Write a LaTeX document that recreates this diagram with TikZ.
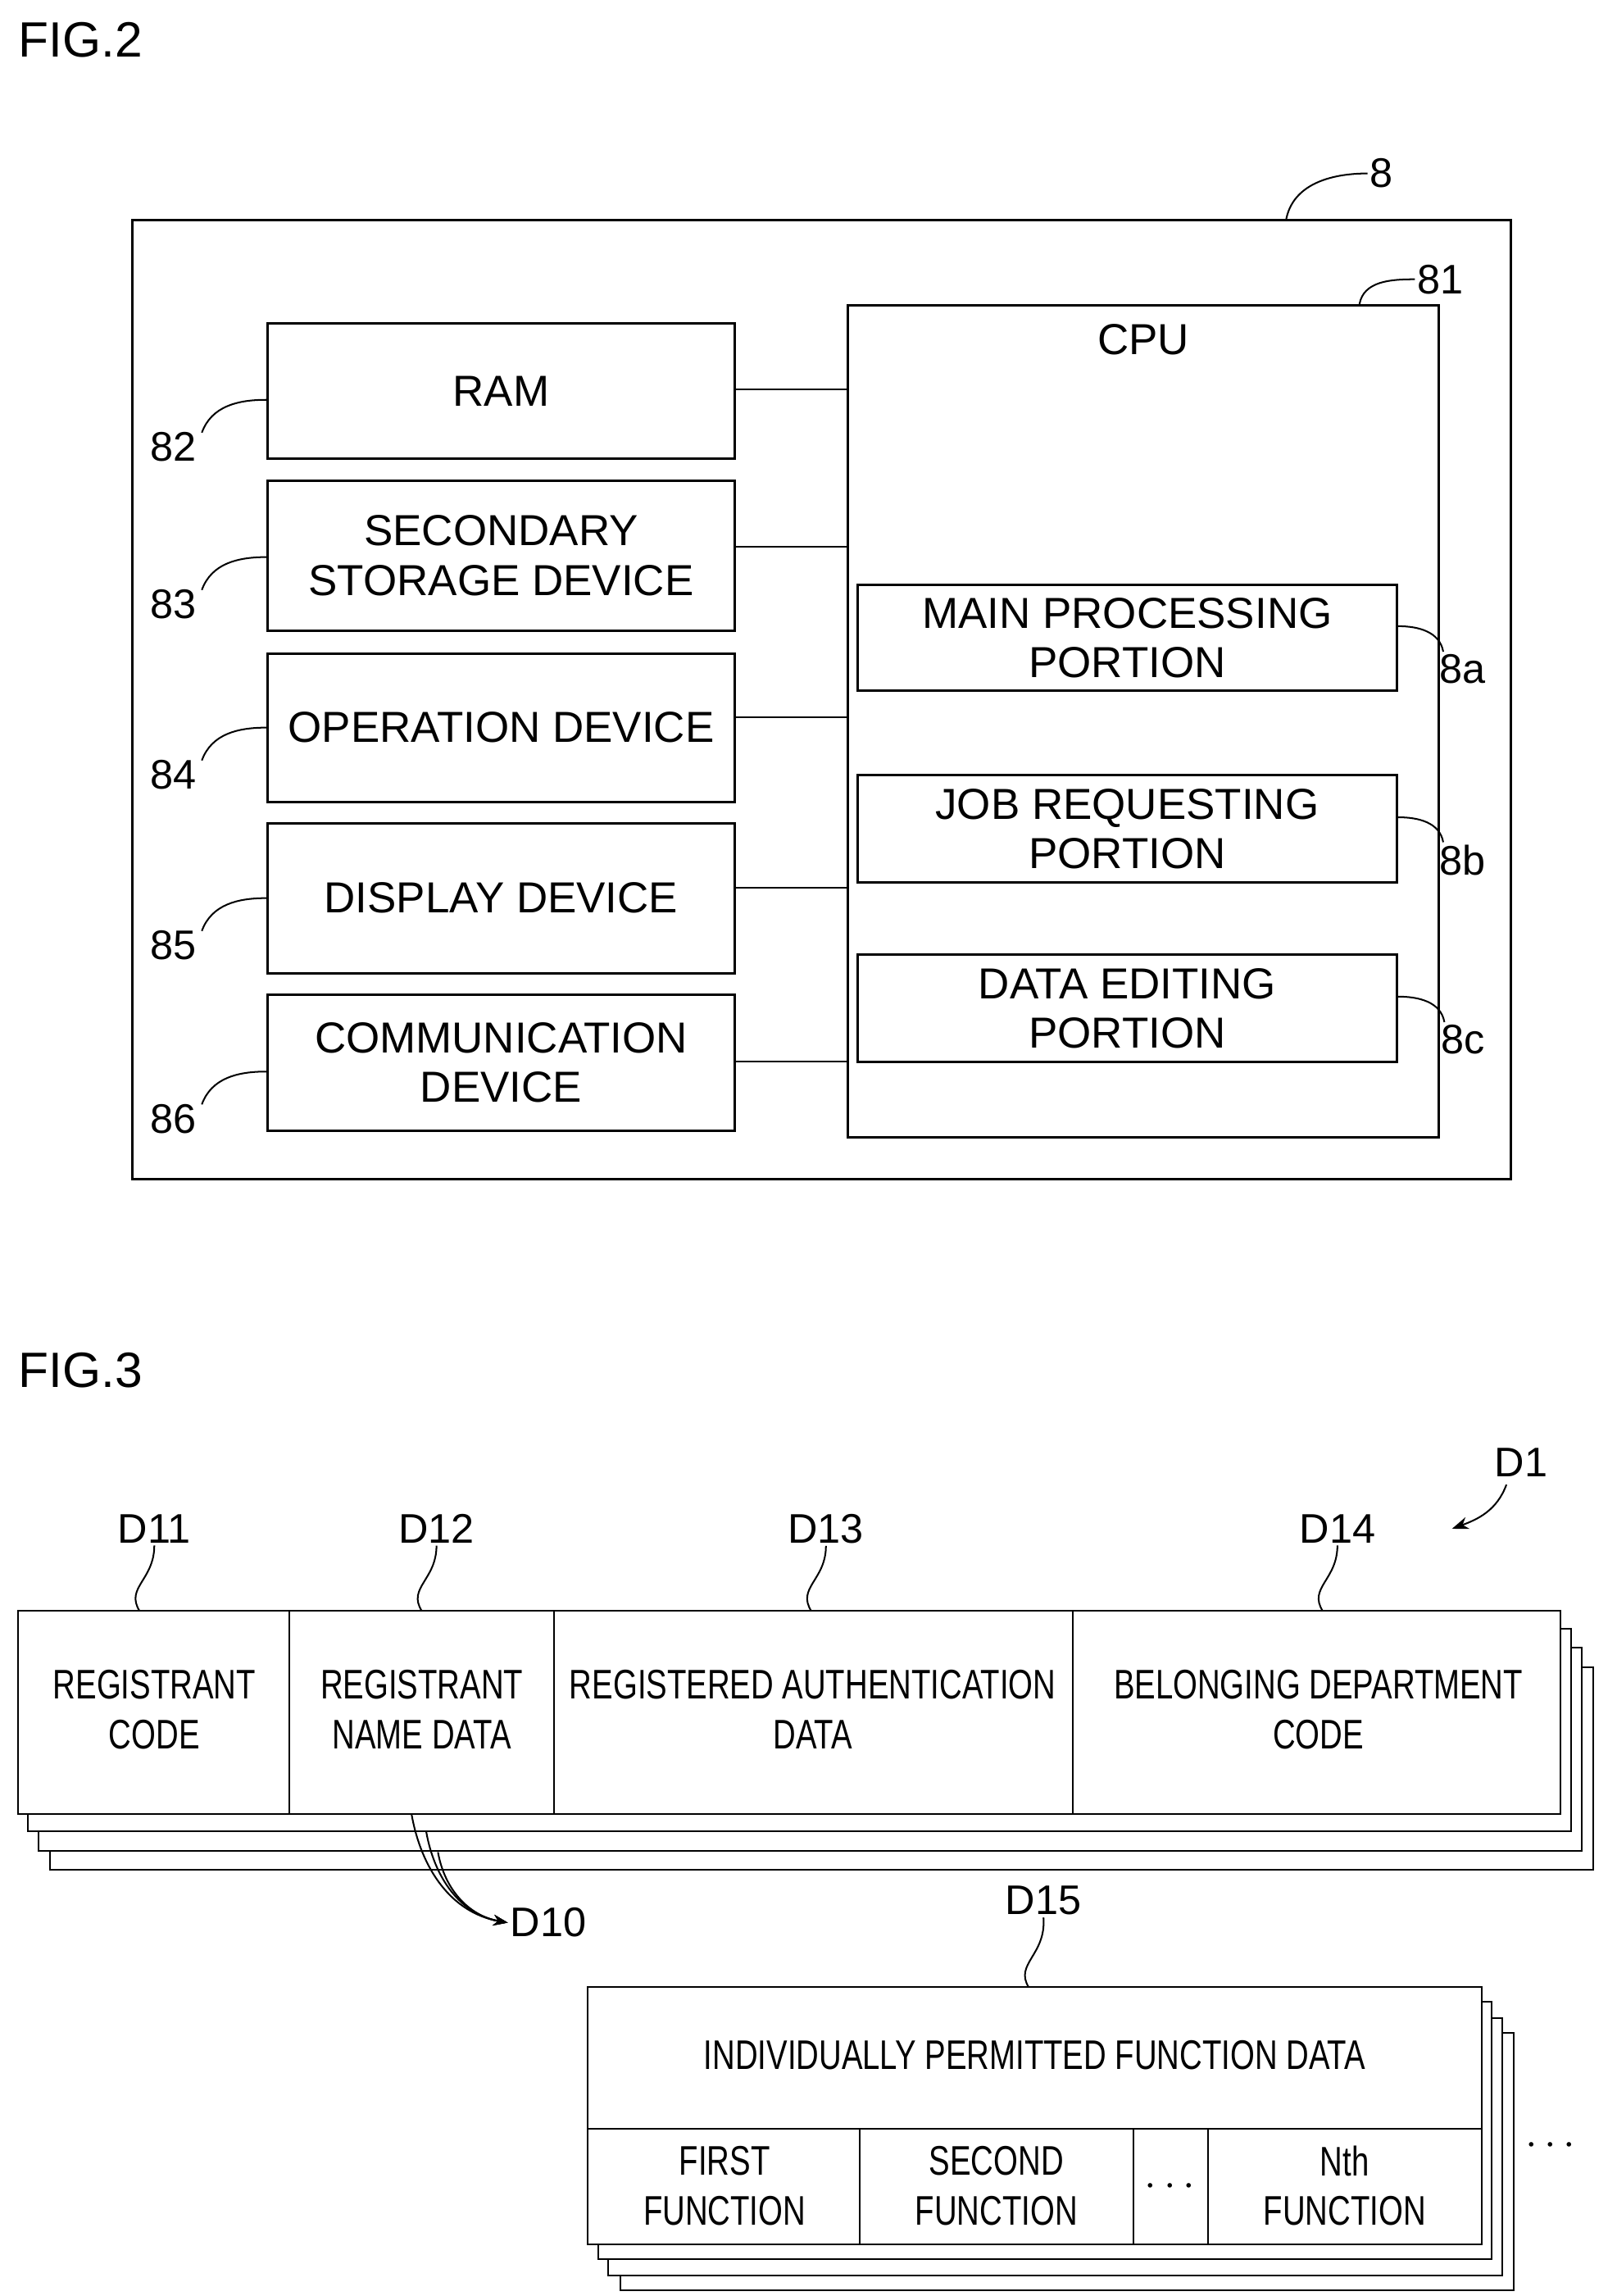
\documentclass[tikz,border=0pt]{standalone}
\usepackage{fontspec}
\setmainfont{Liberation Sans}
\newfontfamily\narrowfont[FakeStretch=0.76]{Liberation Sans}
\usetikzlibrary{arrows.meta,positioning,calc}
\tikzset{
	unit/.style={
		rectangle, draw=black, very thick, fill=white, align=center,
		inner sep=0pt, font=\fontsize{21}{24}\selectfont
	},
	%
	size/.style 2 args={
		minimum width=#1*0.025cm, minimum height=#2*0.025cm
	},
	%
	field/.style={
		align=center, inner sep=0pt, font=\narrowfont\fontsize{20}{24}\selectfont
	},
	%
	refno/.style={
		inner sep=1pt, font=\fontsize{20}{22}\selectfont
	},
	%
	leader/.style={thick}
}

\begin{document}
\begin{tikzpicture}[x=0.025cm,y=-0.025cm]
    \useasboundingbox (0,0) rectangle (1100,1562);
    % FIG.2
    \node[refno, font=\fontsize{24}{26}\selectfont] at (55,27) {FIG.2};
    \draw[very thick] (90,150) rectangle (1028,802);
    \node(n8)[refno] at (940,118) {8};
    \draw[leader] (875,150) to[out=80,in=180] (n8.west);
    \node(cpu)[unit, size={402}{566}, anchor=north west] at (576,207) {};
    \node[unit, draw=none, fill=none] at (778,231) {CPU};
    \node(n81)[refno] at (980,190) {81};
    \draw[leader] (925,207) to[out=80,in=180] (n81.west);
    \node(ram)[unit, size={318}{92}] at (341,266) {RAM};
    \node(sec)[unit, size={318}{102}] at (341,378) {SECONDARY\\STORAGE DEVICE};
    \node(ope)[unit, size={318}{101}] at (341,495) {OPERATION DEVICE};
    \node(dis)[unit, size={318}{102}] at (341,611) {DISPLAY DEVICE};
    \node(com)[unit, size={318}{93}] at (341,723) {COMMUNICATION\\DEVICE};
    \foreach \b/\y/\n in {ram/265/82, sec/372/83, ope/488/84, dis/604/85, com/722/86} {
        \draw[thick] (\b.east |- 0,\y) -- (cpu.west |- 0,\y);
        \node(n\n)[refno] at (118,\y+39) {\n};
        \draw[leader] (\b.west |- 0,\y+7) to[out=180,in=70] ($(n\n.north east)+(2,2)$);
    }
    \node(mpp)[unit, size={367}{72}] at (767,434) {MAIN PROCESSING\\PORTION};
    \node(jrp)[unit, size={367}{73}] at (767,564) {JOB REQUESTING\\PORTION};
    \node(dep)[unit, size={367}{73}] at (767,686) {DATA EDITING\\PORTION};
    \foreach \b/\n in {mpp/8a, jrp/8b, dep/8c} {
        \node(n\n)[refno] at ($(\b.east)+(44,21)$) {\n};
        \draw[leader] ($(\b.east)+(0,-8)$) to[out=0,in=100] ($(n\n.north west)+(4,0)$);
    }
    % FIG.3
    \node[refno, font=\fontsize{24}{26}\selectfont] at (55,932) {FIG.3};
    \node(d1)[refno] at (1035,995) {D1};
    \draw[leader, -{Stealth[length=8]}] (1025,1010) to[out=250,in=20] (988,1040);
    \foreach \dx/\dy in {22/38, 14/25, 7/12} {
        \draw[thick, fill=white] (12+\dx,1096+\dy) rectangle (1062+\dx,1234+\dy);
    }
    \draw[thick, fill=white] (12,1096) rectangle (1062,1234);
    \foreach \x in {197,377,730} \draw[thick] (\x,1096) -- (\x,1234);
    \node(rc)[field] at (105,1163) {REGISTRANT\\CODE};
    \node(rn)[field] at (287,1163) {REGISTRANT\\NAME DATA};
    \node(ra)[field] at (553,1163) {REGISTERED AUTHENTICATION\\DATA};
    \node(bd)[field] at (897,1163) {BELONGING DEPARTMENT\\CODE};
    \foreach \n/\x in {D11/105, D12/297, D13/562, D14/910} {
        \node(\n)[refno] at (\x,1040) {\n};
        \draw[leader] (\x-10,1096) .. controls (\x-20,1080) and (\x,1075) .. (\n.south);
    }
    \node(d10)[refno] at (373,1308) {D10};
    \foreach \x/\y in {280/1246, 290/1258, 298/1272} {
        \draw[leader, -{Stealth[length=7]}] (\x,\y-12) to[out=-80,in=170] (d10.west);
    }
    \node(d15)[refno] at (710,1293) {D15};
    \foreach \dx/\dy in {22/31, 14/21, 7/10} {
        \draw[thick, fill=white] (400+\dx,1352+\dy) rectangle (1008+\dx,1527+\dy);
    }
    \draw[thick, fill=white] (400,1352) rectangle (1008,1527);
    \draw[leader] (700,1352) .. controls (690,1336) and (712,1330) .. (d15.south);
    \draw[thick] (400,1448) -- (1008,1448);
    \foreach \x in {585,771,822} \draw[thick] (\x,1448) -- (\x,1527);
    \node(ipf)[field] at (704,1398) {INDIVIDUALLY PERMITTED FUNCTION DATA};
    \node(f1)[field] at (493,1487) {FIRST\\FUNCTION};
    \node(f2)[field] at (678,1487) {SECOND\\FUNCTION};
    \node(fd)[field] at (796,1488) {\textbf{$\cdots$}};
    \node(fn)[field] at (915,1487) {Nth\\FUNCTION};
    \node(more)[field] at (1055,1460) {\textbf{$\cdots$}};
\end{tikzpicture}
\end{document}
